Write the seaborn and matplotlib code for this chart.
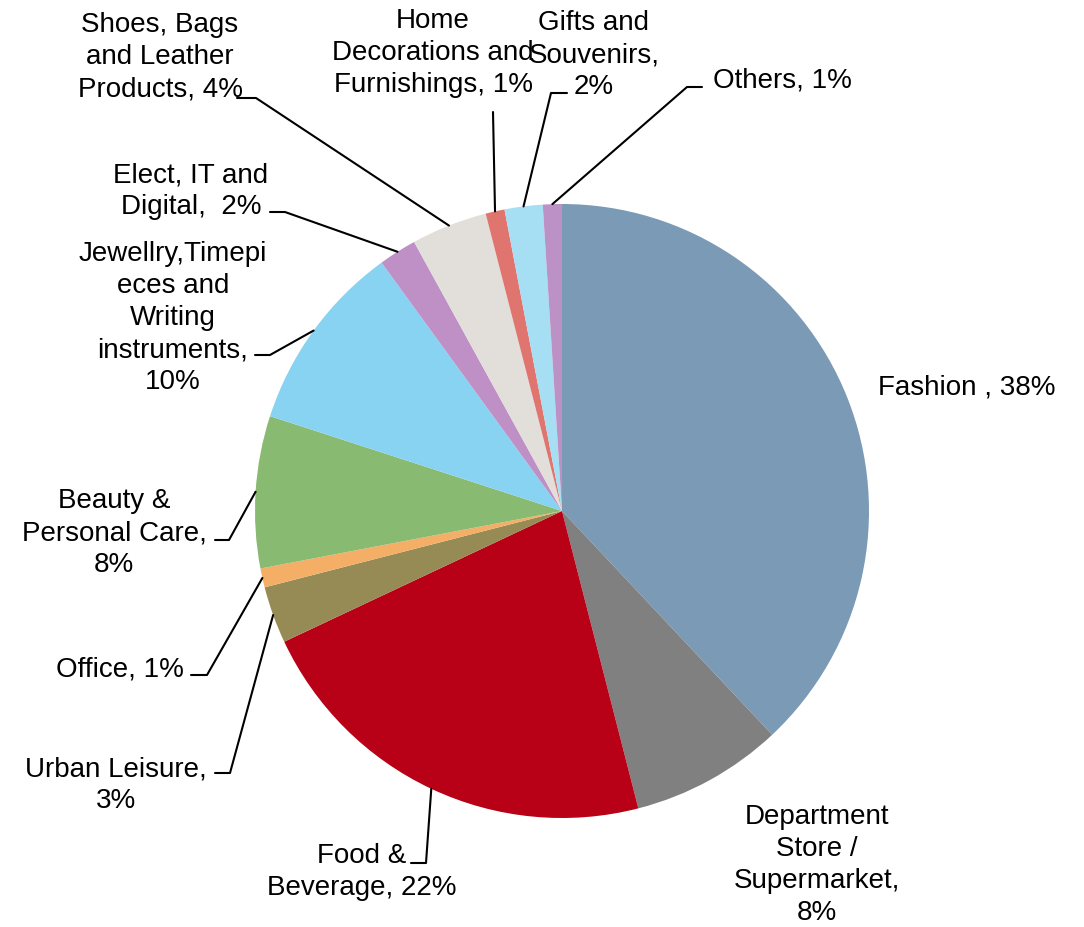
import seaborn as sns
import matplotlib.pyplot as plt
import numpy as np

sns.set_style('white')
plt.rcParams['font.family'] = ['Liberation Sans', 'DejaVu Sans']

W, H = 1084, 927

categories = ["Fashion", "Department Store / Supermarket", "Food & Beverage",
              "Urban Leisure", "Office", "Beauty & Personal Care",
              "Jewellry, Timepieces and Writing instruments",
              "Elect, IT and Digital", "Shoes, Bags and Leather Products",
              "Home Decorations and Furnishings", "Gifts and Souvenirs", "Others"]
shares = [38, 8, 22, 3, 1, 8, 10, 2, 4, 1, 2, 1]
colors = ["#7B9AB6", "#808080", "#B80016", "#968B55", "#F4AE66", "#89BA72",
          "#88D3F1", "#BE90C6", "#E2DFDA", "#E07570", "#A6DEF3", "#BC91C5"]
label_fmt = ["Fashion , {}%", "Department\nStore /\nSupermarket,\n{}%",
             "Food &\nBeverage, {}%", "Urban Leisure,\n{}%", "Office, {}%",
             "Beauty &\nPersonal Care,\n{}%",
             "Jewellry,Timepi\neces and\nWriting\ninstruments,\n{}%",
             "Elect, IT and\nDigital,  {}%", "Shoes, Bags\nand Leather\nProducts, {}%",
             "Home\nDecorations and\nFurnishings, {}%", "Gifts and\nSouvenirs,\n{}%",
             "Others, {}%"]

# layout (pixels from top-left)
label_pos = [(967, 387), (817, 865), (362, 872), (116, 785), (120, 670),
             (114, 533), (173, 318), (191, 191), (160, 57), (433, 53),
             (594, 55), (782, 80)]
# leader elbows: (elbow, end) or None
leaders = [None, None,
           [(426, 863), (411, 863)], [(230, 773), (215, 773)],
           [(207, 675), (191, 675)], [(229, 540), (215, 540)],
           [(270, 355), (255, 355)], [(285, 212), (270, 212)],
           [(256, 98), (237, 98)], [(493, 112)],
           [(551, 93), (567, 93)], [(687, 87), (702, 87)]]

center = (562, H - 511)
radius = 307

fig = plt.figure(figsize=(W / 100, H / 100), dpi=100)
ax = fig.add_axes([0, 0, 1, 1])
wedges, _ = ax.pie(shares, colors=colors, startangle=90, counterclock=False,
                   center=center, radius=radius,
                   wedgeprops=dict(linewidth=0))
ax.set_xlim(0, W)
ax.set_ylim(0, H)
ax.set_aspect('equal')
ax.axis('off')

for i, w in enumerate(wedges):
    txt = label_fmt[i].format(shares[i])
    x, y = label_pos[i]
    ax.text(x, H - y, txt, ha='center', va='center', multialignment='center',
            fontsize=20, linespacing=1.3, color='black')
    if leaders[i] is not None:
        mid = np.deg2rad((w.theta1 + w.theta2) / 2)
        px = [center[0] + radius * np.cos(mid)]
        py = [center[1] + radius * np.sin(mid)]
        for (lx, ly) in leaders[i]:
            px.append(lx)
            py.append(H - ly)
        ax.plot(px, py, color='black', lw=1.5)

plt.savefig("out.png", dpi=100)
